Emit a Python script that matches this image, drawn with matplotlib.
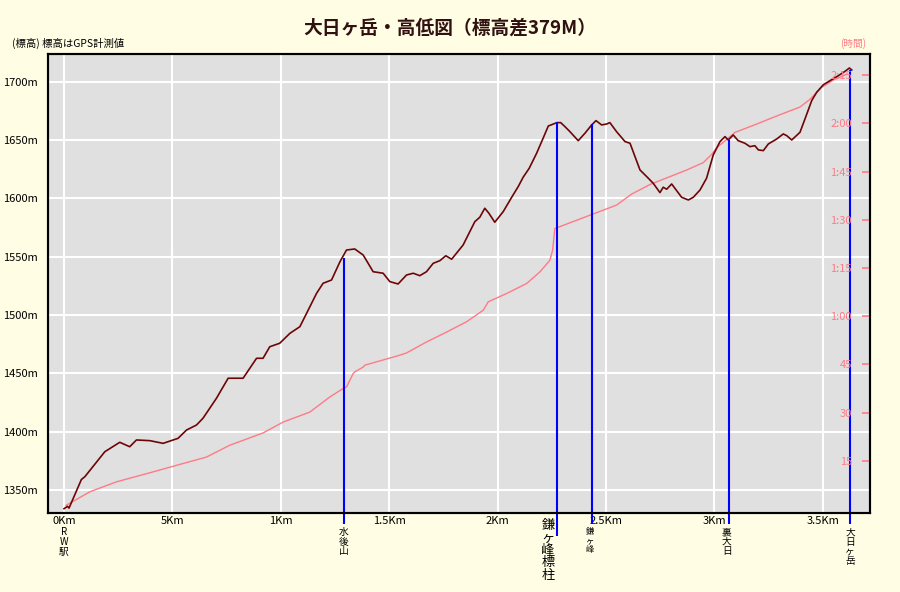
import matplotlib
matplotlib.use('Agg')
import matplotlib.pyplot as plt

plt.rcParams['font.family'] = ['Noto Sans CJK JP', 'DejaVu Sans']

# elevation profile (distance km, elevation m)
dist_km = [0.000, 0.016, 0.023, 0.080, 0.096, 0.188, 0.257, 0.303, 0.334, 0.396,
           0.457, 0.526, 0.565, 0.611, 0.641, 0.703, 0.757, 0.826, 0.888, 0.918,
           0.949, 0.995, 1.042, 1.088, 1.119, 1.165, 1.195, 1.234, 1.273, 1.303,
           1.341, 1.380, 1.426, 1.472, 1.503, 1.541, 1.580, 1.611, 1.641, 1.672,
           1.703, 1.734, 1.761, 1.788, 1.841, 1.895, 1.918, 1.941, 1.960, 1.987,
           2.026, 2.065, 2.095, 2.118, 2.146, 2.180, 2.210, 2.234, 2.274, 2.291,
           2.311, 2.334, 2.372, 2.403, 2.434, 2.454, 2.480, 2.503, 2.518, 2.549,
           2.588, 2.611, 2.634, 2.657, 2.688, 2.718, 2.749, 2.764, 2.780, 2.803,
           2.826, 2.849, 2.880, 2.903, 2.934, 2.964, 2.995, 3.026, 3.049, 3.064,
           3.087, 3.110, 3.141, 3.164, 3.187, 3.203, 3.226, 3.249, 3.288, 3.318,
           3.334, 3.357, 3.395, 3.418, 3.449, 3.472, 3.503, 3.534, 3.572, 3.603,
           3.623, 3.634]
elev_m = [1334.0, 1336.0, 1334.5, 1359.0, 1361.4, 1382.8, 1390.9, 1387.1, 1392.9, 1392.3,
          1390.0, 1394.3, 1401.4, 1405.7, 1411.5, 1428.6, 1445.8, 1445.8, 1462.9, 1462.9,
          1472.8, 1475.8, 1484.3, 1490.0, 1501.5, 1518.6, 1527.2, 1530.0, 1545.7, 1555.7,
          1556.6, 1551.4, 1537.1, 1535.8, 1528.6, 1526.6, 1534.3, 1535.8, 1533.7, 1537.1,
          1544.3, 1546.6, 1550.8, 1547.8, 1560.0, 1580.0, 1583.8, 1591.5, 1587.2, 1579.5,
          1588.6, 1600.9, 1610.0, 1618.1, 1625.8, 1638.6, 1651.5, 1662.0, 1664.9, 1664.9,
          1661.4, 1657.1, 1649.4, 1655.8, 1662.9, 1666.6, 1662.9, 1663.7, 1664.9, 1657.1,
          1648.6, 1647.2, 1635.7, 1624.3, 1618.6, 1612.9, 1604.9, 1609.5, 1607.8, 1612.3,
          1606.6, 1600.9, 1598.6, 1600.9, 1607.2, 1617.2, 1637.2, 1648.6, 1652.9, 1650.0,
          1654.3, 1649.4, 1647.2, 1644.3, 1645.1, 1641.5, 1640.9, 1646.6, 1650.9, 1655.2,
          1653.7, 1650.0, 1656.6, 1668.0, 1683.7, 1690.9, 1697.4, 1700.9, 1705.1, 1708.9,
          1711.7, 1710.0]

# walking time (distance km, minutes)
time_km = [0.010, 0.119, 0.242, 0.395, 0.549, 0.657, 0.765, 0.918, 1.011, 1.134,
           1.226, 1.287, 1.303, 1.334, 1.341, 1.380, 1.388, 1.549, 1.580, 1.672,
           1.765, 1.857, 1.934, 1.957, 2.042, 2.134, 2.195, 2.241, 2.254, 2.264,
           2.303, 2.549, 2.618, 2.703, 2.872, 2.949, 2.988, 3.011, 3.041, 3.095,
           3.195, 3.287, 3.395, 3.441, 3.495, 3.549, 3.610]
time_min = [1.2, 5.4, 8.5, 11.3, 14.2, 16.2, 19.9, 23.7, 27.1, 30.2,
            34.9, 37.5, 38.0, 42.2, 42.7, 44.2, 44.8, 47.9, 48.6, 52.0,
            55.1, 58.3, 61.9, 64.5, 67.1, 70.2, 73.8, 77.4, 80.6, 87.3,
            88.3, 94.6, 98.0, 101.0, 105.5, 107.8, 110.4, 112.5, 114.1, 117.2,
            119.8, 122.3, 125.1, 127.5, 131.2, 133.5, 135.3]

x_ticks = [0, 0.5, 1, 1.5, 2, 2.5, 3, 3.5]
x_labels = ['0Km', '5Km', '1Km', '1.5Km', '2Km', '2.5Km', '3Km', '3.5Km']
y_ticks = [1350, 1400, 1450, 1500, 1550, 1600, 1650, 1700]
y_labels = ['%dm' % v for v in y_ticks]
t_ticks = [15, 30, 45, 60, 75, 90, 105, 120, 135]
t_labels = ['15', '30', '45', '1:00', '1:15', '1:30', '1:45', '2:00', '2:15']

# waypoints
mark_names = ['水\n後\n山', '鎌\nヶ\n峰\n標\n柱', '鎌\nヶ\n峰', '裏\n大\n日', '大\n日\nヶ\n岳']
mark_km = [1.291, 2.274, 2.437, 3.066, 3.626]
mark_top = [1549, 1665, 1664, 1650, 1710]
mark_bottom = [1321, 1311, 1321, 1321, 1321]
label_km = [1.291, 2.233, 2.426, 3.058, 3.626]
label_y = [-0.031, -0.013, -0.031, -0.031, -0.031]
label_size = [7, 9.5, 6, 7, 7]

bg = '#fffee4'
pink = '#ff7a86'

fig = plt.figure(figsize=(9, 5.92), dpi=100, facecolor=bg)
ax = fig.add_axes([48/900, 1 - 513/592, 822/900, 459/592])
ax.set_facecolor('#e0e0e0')
ax2 = ax.twinx()

ax.set_xlim(-0.074, 3.718)
ax.set_ylim(1330.3, 1723.7)
ax2.set_ylim(-1.2, 141.6)

ax.grid(True, color='white', linewidth=1.5)
ax.set_axisbelow(True)

# time line uses the right (minutes) axis scale
ax.plot(time_km, time_min, color=pink, linewidth=1.0, transform=ax2.transData, zorder=2)
ax.plot(dist_km, elev_m, color='#6e0505', linewidth=1.2, zorder=3)

ax.vlines(mark_km, mark_bottom, mark_top, colors='#0000ff', linewidth=1.5,
          clip_on=False, zorder=4)

ax.set_xticks(x_ticks)
ax.set_xticklabels(x_labels, fontsize=8)
ax.set_yticks(y_ticks)
ax.set_yticklabels(y_labels, fontsize=8)
ax.tick_params(axis='both', length=0)
ax.tick_params(axis='x', pad=2)
ax.tick_params(axis='y', pad=7)

ax2.set_yticks(t_ticks)
ax2.set_yticklabels(t_labels, fontsize=8, color=pink)
ax2.tick_params(axis='y', direction='in', length=6, width=1.2, color=pink, pad=-13)
plt.setp(ax2.get_yticklabels(), ha='right')

for a in (ax, ax2):
    for s in a.spines.values():
        s.set_color('black')
        s.set_linewidth(1.5)

ax.text(0, -0.031, 'R\nW\n駅', transform=ax.get_xaxis_transform(),
        ha='center', va='top', fontsize=7, linespacing=1.0)
for name, kx, ly, fs in zip(mark_names, label_km, label_y, label_size):
    ax.text(kx, ly, name, transform=ax.get_xaxis_transform(),
            ha='center', va='top', fontsize=fs, linespacing=0.95)

fig.text(0.5, 1 - 28/592, '大日ヶ岳・高低図（標高差379M）', ha='center', va='center',
         fontsize=13.5, fontweight='bold', color='#301010')
fig.text(12/900, 1 - 43/592, '(標高) 標高はGPS計測値', ha='left', va='center',
         fontsize=7.5, color='black')
fig.text(866/900, 1 - 44/592, '(時間)', ha='right', va='center',
         fontsize=7, color=pink)

fig.savefig('out.png', dpi=100, facecolor=bg)
